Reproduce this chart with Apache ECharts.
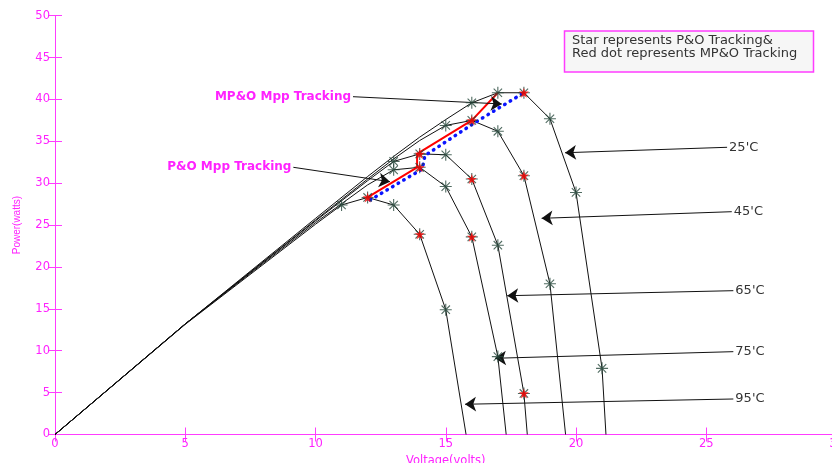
<!DOCTYPE html>
<html>
<head>
<meta charset="utf-8">
<script src="https://cdn.jsdelivr.net/npm/echarts@6/dist/echarts.min.js"></script>
<style>
html,body{margin:0;padding:0;background:#fff;}
#chart{width:832px;height:463px;}
</style>
</head>
<body>
<div id="chart"></div>
<script>
// ---- data (voltage V, power W) ----
const curve25 = [[0,0],[5,13.2],[10,25.8],[12,30.8],[13,33.2],[14,35.5],[15,37.6],[16,39.6],[17,40.8],[18,40.8],[19,37.7],[20,28.9],[21,7.9],[21.15,0]];
const curve45 = [[0,0],[5,13.2],[10,25.6],[12,30.5],[13,32.9],[14,35.1],[15,36.9],[16,37.5],[17,36.2],[18,30.9],[19,18.0],[19.6,0]];
const curve65 = [[0,0],[5,13.2],[10,25.5],[12,30.3],[13,32.6],[14,33.5],[15,33.4],[16,30.5],[17,22.6],[18,4.9],[18.13,0]];
const curve75 = [[0,0],[5,13.2],[10,25.3],[12,29.8],[13,31.6],[14,31.9],[15,29.6],[16,23.6],[17,9.3],[17.32,0]];
const curve95 = [[0,0],[5,13.15],[10,25.1],[11,27.4],[12,28.3],[13,27.4],[14,23.9],[15,14.9],[15.78,0]];

// tracking points
const poStars = [
  [11,27.4],[12,28.3],[13,27.4],[14,23.9],[15,14.9],
  [13,31.6],[14,31.9],[15,29.6],[16,23.6],[17,9.3],
  [13,32.6],[14,33.5],[15,33.4],[16,30.5],[17,22.6],[18,4.9],
  [15,36.9],[16,37.5],[17,36.2],[18,30.9],[19,18.0],
  [16,39.6],[17,40.8],[18,40.8],[19,37.7],[20,28.9],[21,7.9]
];
const mpoDots = [[12,28.3],[14,23.9],[14,31.9],[16,23.6],[14,33.5],[16,30.5],[18,4.9],[16,37.5],[18,30.9],[18,40.8]];
const mpoPath = [[12,28.3],[13.9,31.9],[13.9,33.5],[16,37.5],[17,40.8]];
const poPath = [[12.1,28.0],[14.1,31.7],[14.2,33.3],[16.1,37.2],[18,40.8]];

const xTicks = {min:0, max:30, interval:5};
const yTicks = {min:0, max:50, interval:5};

// annotation arrows: [label, startV, startP, tipV, tipP]
const tempNotes = [
  ["25'C", 25.80, 34.29, 19.58, 33.64],
  ["45'C", 25.98, 26.60, 18.68, 25.81],
  ["65'C", 26.04, 17.17, 17.36, 16.57],
  ["75'C", 26.04, 9.89, 16.89, 9.10],
  ["95'C", 26.04, 4.24, 15.74, 3.61]
];
const trackNotes = [
  ["MP&O Mpp Tracking", 11.44, 40.33, 17.15, 39.46],
  ["P&O Mpp Tracking", 9.15, 31.90, 12.86, 30.18]
];

const MAG = '#ff3cff';
const MAGT = '#ff22ff';
const ASTER = 'path://M5,0L5,10M0,5L10,5M1.5,1.5L8.5,8.5M1.5,8.5L8.5,1.5';
const STAR = 'path://M50,0L61,35L98,35L68,57L79,91L50,70L21,91L32,57L2,35L39,35Z';

const markData = [];
tempNotes.forEach(n => markData.push([
  {coord:[n[1],n[2]], name:n[0], label:{show:true, position:'start', distance:2, formatter:'{b}', color:'#333', fontSize:13, fontFamily:'DejaVu Sans'}},
  {coord:[n[3],n[4]]}
]));
trackNotes.forEach(n => markData.push([
  {coord:[n[1],n[2]], name:n[0], label:{show:true, position:'start', distance:2, formatter:'{b}', color:MAGT, fontSize:12, fontWeight:'bold', fontFamily:'DejaVu Sans'}},
  {coord:[n[3],n[4]]}
]));

function curveSeries(name, data){
  return {type:'line', name:name, data:data, symbol:'none', silent:true,
    lineStyle:{color:'#111', width:1}, animation:false, z:2};
}

const axisCommon = {
  type:'value',
  splitLine:{show:false},
  axisLine:{show:true, lineStyle:{color:MAG, width:1}},
  axisTick:{show:true, inside:true, length:7, lineStyle:{color:MAG}},
};

const option = {
  animation:false,
  backgroundColor:'#fff',
  grid:{left:55, right:-4.5, top:15.7, bottom:28.5, containLabel:false, outerBoundsMode:'none'},
  xAxis:[
    Object.assign({}, axisCommon, xTicks, {position:'bottom',
      name:'Voltage(volts)', nameLocation:'middle', nameGap:17,
      nameTextStyle:{color:MAGT, fontSize:11.5, fontFamily:'DejaVu Sans'},
      axisLabel:{color:MAGT, fontSize:11.5, fontFamily:'DejaVu Sans', margin:4}}),
    Object.assign({}, axisCommon, xTicks, {position:'top', axisLabel:{show:false}})
  ],
  yAxis:[
    Object.assign({}, axisCommon, yTicks, {position:'left',
      name:'Power(watts)', nameLocation:'middle', nameGap:33,
      nameTextStyle:{color:MAGT, fontSize:10, fontFamily:'Liberation Sans'},
      axisLabel:{color:MAGT, fontSize:11.5, fontFamily:'DejaVu Sans', margin:5}}),
    Object.assign({}, axisCommon, yTicks, {position:'right', axisLabel:{show:false}})
  ],
  graphic:[
    {type:'rect', shape:{x:564.5, y:31, width:249, height:41}, style:{fill:'#f6f6f6', stroke:MAG, lineWidth:1.5}, z:100},
    {type:'text', x:572, y:34.5, z:101, style:{text:'Star represents P&O Tracking&\nRed dot represents MP&O Tracking', fill:'#333', fontSize:13, fontFamily:'DejaVu Sans', lineHeight:12.5, verticalAlign:'top'}}
  ],
  series:[
    Object.assign(curveSeries('25', curve25), {
      markLine:{silent:true, animation:false, symbol:['none','arrow'], symbolSize:11,
        lineStyle:{color:'#111', width:1, type:'solid'}, itemStyle:{color:'#000'}, emphasis:{disabled:true}, data:markData}
    }),
    curveSeries('45', curve45),
    curveSeries('65', curve65),
    curveSeries('75', curve75),
    curveSeries('95', curve95),
    {type:'line', name:'MP&O path', data:mpoPath, symbol:'none', silent:true, z:3,
      lineStyle:{color:'#ff0000', width:2}},
    {type:'line', name:'P&O path', data:poPath, symbol:'none', silent:true, z:4,
      lineStyle:{color:'#0a14ff', width:3.5, type:[0.5,6], cap:'round'}},
    {type:'scatter', name:'P&O', data:poStars, symbol:ASTER, symbolSize:12, silent:true, z:5,
      itemStyle:{color:'transparent', borderColor:'#24463a', borderWidth:1.1}},
    {type:'scatter', name:'MP&O', data:mpoDots, symbol:STAR, symbolSize:10, silent:true, z:6,
      itemStyle:{color:'#ff0000', borderWidth:0}}
  ]
};

const chart = echarts.init(document.getElementById('chart'), null, {renderer:'canvas'});
chart.setOption(option);
</script>
</body>
</html>
